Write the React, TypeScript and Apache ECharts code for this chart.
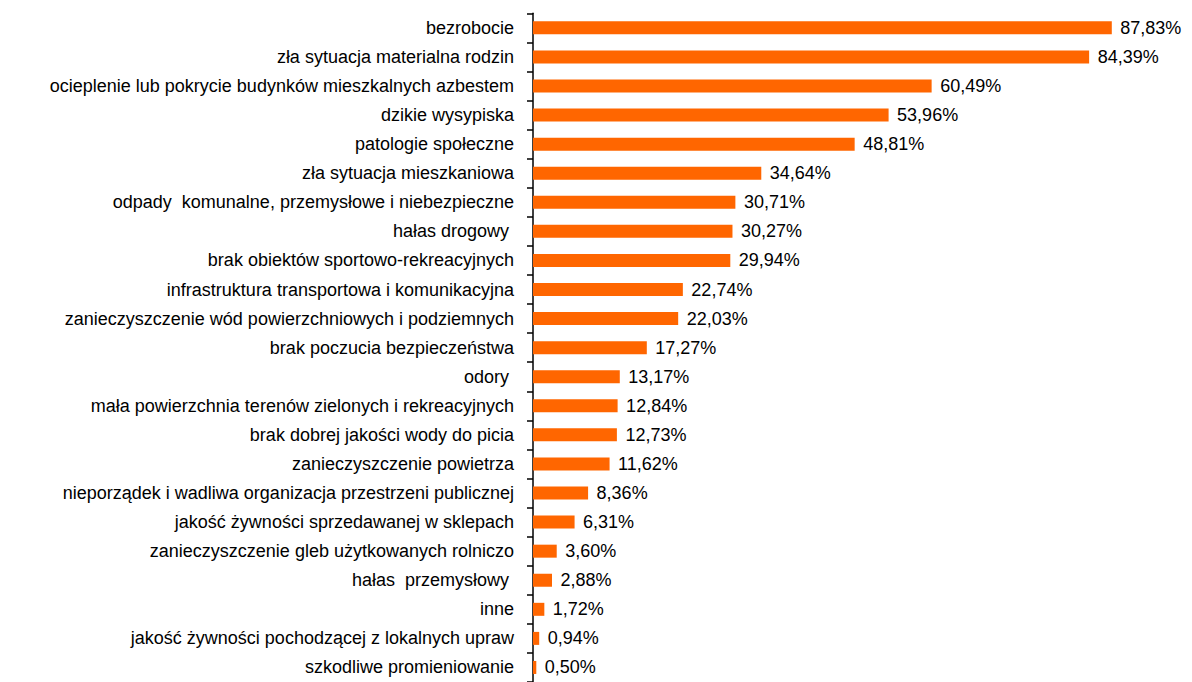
import React, { useEffect, useRef } from "react";
import * as echarts from "echarts";

const categories = [
  "bezrobocie",
  "zła sytuacja materialna rodzin",
  "ocieplenie lub pokrycie budynków mieszkalnych azbestem",
  "dzikie wysypiska",
  "patologie społeczne",
  "zła sytuacja mieszkaniowa",
  "odpady  komunalne, przemysłowe i niebezpieczne",
  "hałas drogowy ",
  "brak obiektów sportowo-rekreacyjnych",
  "infrastruktura transportowa i komunikacyjna",
  "zanieczyszczenie wód powierzchniowych i podziemnych",
  "brak poczucia bezpieczeństwa",
  "odory ",
  "mała powierzchnia terenów zielonych i rekreacyjnych",
  "brak dobrej jakości wody do picia",
  "zanieczyszczenie powietrza",
  "nieporządek i wadliwa organizacja przestrzeni publicznej",
  "jakość żywności sprzedawanej w sklepach",
  "zanieczyszczenie gleb użytkowanych rolniczo",
  "hałas  przemysłowy ",
  "inne",
  "jakość żywności pochodzącej z lokalnych upraw",
  "szkodliwe promieniowanie",
];

const values = [
  87.83, 84.39, 60.49, 53.96, 48.81, 34.64, 30.71, 30.27, 29.94, 22.74, 22.03,
  17.27, 13.17, 12.84, 12.73, 11.62, 8.36, 6.31, 3.6, 2.88, 1.72, 0.94, 0.5,
];

export default function App() {
  const ref = useRef<HTMLDivElement>(null);
  useEffect(() => {
    document.body.style.margin = "0";
    const chart = echarts.init(ref.current!, null, { renderer: "svg" });
    chart.setOption({
      animation: false,
      backgroundColor: "#ffffff",
      textStyle: { fontFamily: "Liberation Sans, Arial, sans-serif" },
      grid: { left: 533, top: 13.3, width: 664.6, height: 671.6, containLabel: false },
      xAxis: {
        type: "value",
        min: 0,
        max: 100,
        show: false,
      },
      yAxis: {
        type: "category",
        data: categories,
        inverse: true,
        axisLine: { show: true, lineStyle: { color: "#000", width: 1.5 } },
        axisTick: { show: true, length: 6, lineStyle: { color: "#000", width: 1.5 } },
        axisLabel: {
          color: "#000",
          fontSize: 18,
          margin: 19,
          fontFamily: "Liberation Sans, Arial, sans-serif",
        },
        splitLine: { show: false },
      },
      series: [
        {
          type: "bar",
          data: values,
          barWidth: 13,
          itemStyle: { color: "#FF6600" },
          label: {
            show: true,
            position: "right",
            distance: 8.5,
            color: "#000",
            fontSize: 18,
            fontFamily: "Liberation Sans, Arial, sans-serif",
            formatter: (p: any) => p.value.toFixed(2).replace(".", ",") + "%",
          },
        },
      ],
    });
    return () => chart.dispose();
  }, []);
  return <div ref={ref} style={{ width: 1192, height: 682 }} />;
}
